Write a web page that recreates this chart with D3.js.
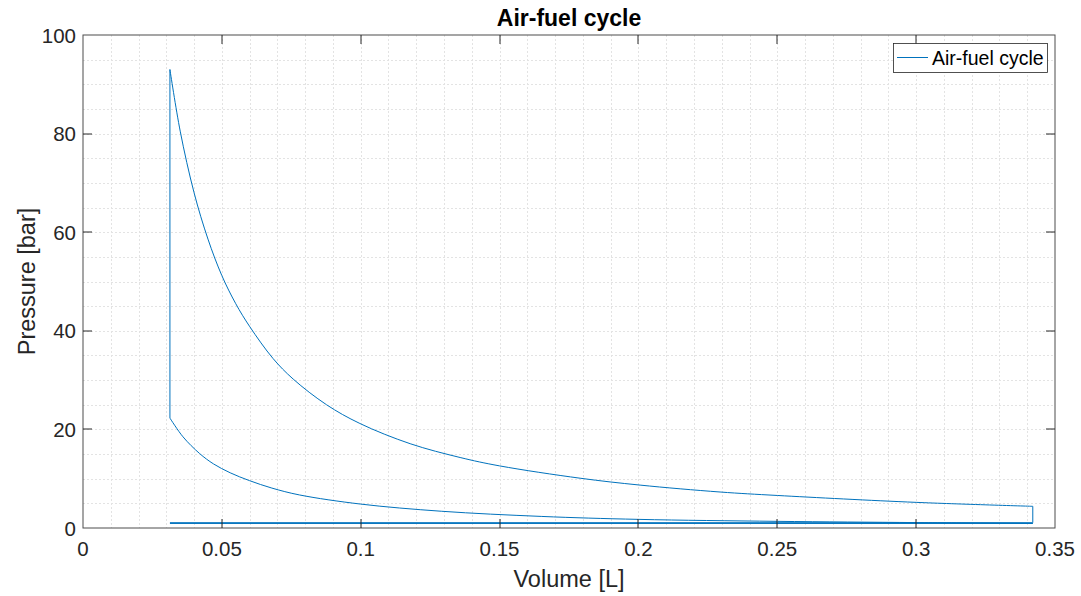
<!DOCTYPE html>
<html>
<head>
<meta charset="utf-8">
<script src="https://cdn.jsdelivr.net/npm/d3@7"></script>
<style>
  body { margin: 0; background: #fff; }
  svg { display: block; font-family: "Liberation Sans", Arial, sans-serif; }
</style>
</head>
<body>
<div id="chart"></div>
<script>
"use strict";

// cycle pieces (V in L, p in bar)
const intakeV = [0.0313, 0.342];
const intakeP = [0.92, 0.92];

const compressionV = [0.342, 0.30, 0.25, 0.2, 0.165, 0.129, 0.1, 0.078, 0.068, 0.06, 0.053, 0.047, 0.042, 0.036, 0.0313];
const compressionP = [0.92, 1.1, 1.35, 1.75, 2.35, 3.4, 4.85, 6.7, 8.1, 9.6, 11.2, 13.0, 15.1, 18.5, 22.3];

const combustionV = [0.0313, 0.0313];
const combustionP = [22.3, 93];

const expansionV = [0.0313, 0.035, 0.04, 0.045, 0.05, 0.055, 0.0601, 0.0684, 0.0757, 0.0877, 0.0997, 0.1178, 0.1358, 0.15, 0.179, 0.2006, 0.2294, 0.25, 0.30, 0.342];
const expansionP = [93, 80.5, 68, 58.6, 51.2, 45.5, 40.8, 34.4, 30.2, 25.0, 21.2, 17.1, 14.3, 12.6, 10.1, 8.7, 7.3, 6.6, 5.2, 4.4];

const blowdownV = [0.342, 0.342];
const blowdownP = [4.4, 1.08];

const exhaustV = [0.342, 0.0313];
const exhaustP = [1.08, 1.08];

const xTicks = [0, 0.05, 0.1, 0.15, 0.2, 0.25, 0.3, 0.35];
const yTicks = [0, 20, 40, 60, 80, 100];

const titleText = "Air-fuel cycle";
const xLabel = "Volume [L]";
const yLabel = "Pressure [bar]";
const legendText = "Air-fuel cycle";

const W = 1081, H = 596;
const plotLeft = 83, plotRight = 1055, plotTop = 35, plotBottom = 528;
const lineColor = "#0072BD";

function zip(vs, ps) {
  return vs.map((v, i) => ({ v: v, p: ps[i] }));
}

function draw() {
  const svg = d3.select("#chart")
    .append("svg")
    .attr("width", W)
    .attr("height", H);

  svg.append("rect")
    .attr("width", W)
    .attr("height", H)
    .attr("fill", "#fff");

  const x = d3.scaleLinear().domain([0, 0.35]).range([plotLeft, plotRight]);
  const y = d3.scaleLinear().domain([0, 100]).range([plotBottom, plotTop]);

  // minor grid
  const grid = svg.append("g");
  grid.selectAll("line.mx")
    .data(d3.range(1, 35).map(i => i * 0.01))
    .enter()
    .append("line")
    .attr("x1", d => Math.round(x(d)) + 0.5)
    .attr("x2", d => Math.round(x(d)) + 0.5)
    .attr("y1", plotTop)
    .attr("y2", plotBottom)
    .attr("stroke", "#e3e3e3")
    .attr("stroke-dasharray", "2,2");

  grid.selectAll("line.my")
    .data(d3.range(1, 20).map(i => i * 5))
    .enter()
    .append("line")
    .attr("x1", plotLeft)
    .attr("x2", plotRight)
    .attr("y1", d => Math.round(y(d)) + 0.5)
    .attr("y2", d => Math.round(y(d)) + 0.5)
    .attr("stroke", "#e3e3e3")
    .attr("stroke-dasharray", "2,2");

  // cycle
  const straight = d3.line().x(d => x(d.v)).y(d => y(d.p));
  const smooth = d3.line().x(d => x(d.v)).y(d => y(d.p)).curve(d3.curveCatmullRom.alpha(0.5));

  const parts = [
    [zip(intakeV, intakeP), straight],
    [zip(compressionV, compressionP), smooth],
    [zip(combustionV, combustionP), straight],
    [zip(expansionV, expansionP), smooth],
    [zip(blowdownV, blowdownP), straight],
    [zip(exhaustV, exhaustP), straight],
  ];

  parts.forEach(([pts, gen]) => {
    svg.append("path")
      .attr("d", gen(pts))
      .attr("fill", "none")
      .attr("stroke", lineColor)
      .attr("stroke-width", 1);
  });

  // axes box
  svg.append("rect")
    .attr("x", plotLeft)
    .attr("y", plotTop)
    .attr("width", plotRight - plotLeft)
    .attr("height", plotBottom - plotTop)
    .attr("fill", "none")
    .attr("stroke", "#4d4d4d")
    .attr("stroke-width", 1);

  const tickLen = 9;
  const ticks = svg.append("g").attr("stroke", "#262626");
  xTicks.slice(1, -1).forEach(t => {
    const px = Math.round(x(t));
    ticks.append("line").attr("x1", px).attr("x2", px).attr("y1", plotBottom).attr("y2", plotBottom - tickLen);
    ticks.append("line").attr("x1", px).attr("x2", px).attr("y1", plotTop).attr("y2", plotTop + tickLen);
  });
  yTicks.slice(1, -1).forEach(t => {
    const py = Math.round(y(t));
    ticks.append("line").attr("x1", plotLeft).attr("x2", plotLeft + tickLen).attr("y1", py).attr("y2", py);
    ticks.append("line").attr("x1", plotRight).attr("x2", plotRight - tickLen).attr("y1", py).attr("y2", py);
  });

  svg.selectAll("text.xt")
    .data(xTicks)
    .enter()
    .append("text")
    .attr("x", d => x(d))
    .attr("y", plotBottom + 28)
    .attr("text-anchor", "middle")
    .attr("font-size", 20.5)
    .attr("fill", "#262626")
    .text(d => d3.format("~g")(d));

  svg.selectAll("text.yt")
    .data(yTicks)
    .enter()
    .append("text")
    .attr("x", plotLeft - 7)
    .attr("y", d => y(d) + 7.5)
    .attr("text-anchor", "end")
    .attr("font-size", 20.5)
    .attr("fill", "#262626")
    .text(d => d);

  svg.append("text")
    .attr("x", (plotLeft + plotRight) / 2)
    .attr("y", 26)
    .attr("text-anchor", "middle")
    .attr("font-size", 23)
    .attr("font-weight", "bold")
    .attr("fill", "#000")
    .text(titleText);

  svg.append("text")
    .attr("x", (plotLeft + plotRight) / 2)
    .attr("y", 587)
    .attr("text-anchor", "middle")
    .attr("font-size", 23.5)
    .attr("fill", "#262626")
    .text(xLabel);

  svg.append("text")
    .attr("transform", `translate(35, ${(plotTop + plotBottom) / 2}) rotate(-90)`)
    .attr("text-anchor", "middle")
    .attr("font-size", 23.5)
    .attr("fill", "#262626")
    .text(yLabel);

  // legend
  const lg = svg.append("g");
  lg.append("rect")
    .attr("x", 893.5)
    .attr("y", 43.5)
    .attr("width", 154)
    .attr("height", 29)
    .attr("fill", "#fff")
    .attr("stroke", "#262626")
    .attr("stroke-width", 0.8);
  lg.append("line")
    .attr("x1", 897)
    .attr("x2", 928)
    .attr("y1", 57.5)
    .attr("y2", 57.5)
    .attr("stroke", lineColor)
    .attr("stroke-width", 1);
  lg.append("text")
    .attr("x", 932)
    .attr("y", 64.5)
    .attr("font-size", 19.5)
    .attr("fill", "#000")
    .text(legendText);
}

draw();
</script>
</body>
</html>
